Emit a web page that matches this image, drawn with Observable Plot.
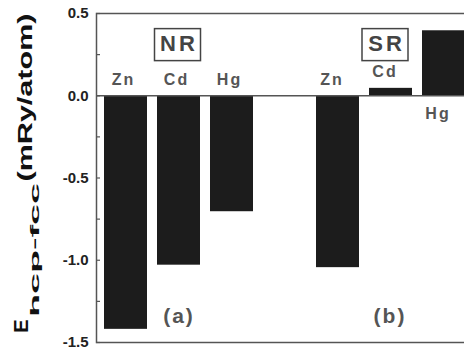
<!DOCTYPE html>
<html><head><meta charset="utf-8">
<script src="https://cdn.jsdelivr.net/npm/d3@7"></script>
<script src="https://cdn.jsdelivr.net/npm/@observablehq/plot@0.6"></script>
<style>
body{margin:0;background:#fff}
g[aria-description="element-label"] text{letter-spacing:2px}
g[aria-description="panel-name"] text{letter-spacing:3px}
g[aria-description="panel-tag"] text{letter-spacing:2px}
</style>
</head><body><div id="chart"></div>
<script>
// ---- data ----
const elements = ["Zn", "Cd", "Hg"];
const panels = ["NR", "SR"];
const panelTags = ["(a)", "(b)"];
const nrValues = [-1.42, -1.03, -0.705];
const srValues = [-1.045, 0.045, 0.395];
const yTickValues = [0.5, 0.0, -0.5, -1.0, -1.5];
const yMinorTicks = [0.5, 0.25, 0.0, -0.25, -0.5, -0.75, -1.0, -1.25, -1.5];

// ---- derived tables ----
const slots = [...elements.map(e => "NR " + e), "gap", ...elements.map(e => "SR " + e)];
const valuesByPanel = {NR: nrValues, SR: srValues};
const bars = panels.flatMap(p => elements.map((e, i) => ({panel: p, element: e, slot: p + " " + e, value: valuesByPanel[p][i]})));
const panelData = panels.map((p, i) => ({name: p, tag: panelTags[i], slot: p + " " + elements[1]}));

const font = "'Liberation Sans', Arial, Helvetica, sans-serif";
const dxByPanel = {NR: {el: -2.5, name: 0, tag: 0}, SR: {el: -6, name: -4.5, tag: -1}};

const panelMarks = panels.flatMap(p => {
  const b = bars.filter(d => d.panel === p);
  const pd = panelData.filter(d => d.name === p);
  const off = dxByPanel[p];
  return [
    Plot.text(b.filter(d => d.value < 0.2), {x: "slot", y: d => Math.max(0, d.value), text: "element", dy: -16, dx: off.el, fontSize: 16, fontWeight: "bold", fill: "#555", ariaDescription: "element-label"}),
    Plot.text(b.filter(d => d.value >= 0.2), {x: "slot", y: () => 0, text: "element", dy: 18, dx: off.el, fontSize: 16, fontWeight: "bold", fill: "#555", ariaDescription: "element-label"}),
    Plot.text(pd, {x: "slot", text: "name", frameAnchor: "top", dy: 22, dx: off.name, fontSize: 22, fontWeight: "bold", fill: "#444", ariaDescription: "panel-name"}),
    Plot.text(pd, {x: "slot", text: "tag", frameAnchor: "bottom", dy: -20, dx: off.tag, fontSize: 21, fontWeight: "bold", fill: "#555", ariaDescription: "panel-tag"})
  ];
});

const chart = Plot.plot({
  width: 464, height: 354,
  marginLeft: 96, marginRight: -9, marginTop: 13, marginBottom: 12,
  style: {fontFamily: font, background: "#fff", overflow: "hidden"},
  x: {type: "band", domain: slots, paddingInner: 0.18, paddingOuter: 0.106, axis: null},
  y: {domain: [-1.5, 0.5], axis: null, label: null},
  marks: [
    Plot.barY(bars, {x: "slot", y: "value", fill: "#1c1c1c"}),
    Plot.ruleY([0], {stroke: "#555", strokeWidth: 1.5}),
    Plot.frame({stroke: "#555", strokeWidth: 1.5}),
    Plot.tickY(yMinorTicks, {y: d => d, stroke: "#555", strokeWidth: 1.2, insetRight: 373}),
    Plot.axisY({ticks: yTickValues, tickSize: 0, tickPadding: 8, label: null, tickFormat: d => d.toFixed(1), fontSize: 15, fontWeight: "bold", fill: "#222"}),
    ...panelMarks
  ]
});

document.getElementById("chart").appendChild(chart);
const svg = d3.select(chart);

// boxes around panel names
svg.selectAll('g[aria-description="panel-name"] text').each(function() {
  const bb = this.getBBox();
  const cx = bb.x + (bb.width - 3) / 2, cy = bb.y + bb.height / 2 + 1;
  const r = document.createElementNS("http://www.w3.org/2000/svg", "rect");
  this.parentNode.insertBefore(r, this);
  d3.select(r)
    .attr("x", cx - 23).attr("y", cy - 16).attr("width", 46).attr("height", 32)
    .attr("fill", "none").attr("stroke", "#444").attr("stroke-width", 1.5);
  const tr = this.getAttribute("transform");
  if (tr) r.setAttribute("transform", tr);
});

// y-axis title: E_{hcp-fcc} (mRy/atom)
const title = svg.append("g").attr("fill", "#111").attr("font-family", font).attr("font-weight", "bold");
const addRot = (txt, x, y, size, len) => {
  const t = title.append("text").attr("transform", `translate(${x},${y}) rotate(-90)`)
    .attr("text-anchor", "middle").attr("font-size", size).text(txt);
  if (len) t.attr("textLength", len).attr("lengthAdjust", "spacingAndGlyphs");
  return t;
};
addRot("E", 28, 326, 20);
addRot("hcp-fcc", 38.5, 250, 13, 134);
addRot("(mRy/atom)", 32, 97.5, 20, 168);
</script>
</body></html>
